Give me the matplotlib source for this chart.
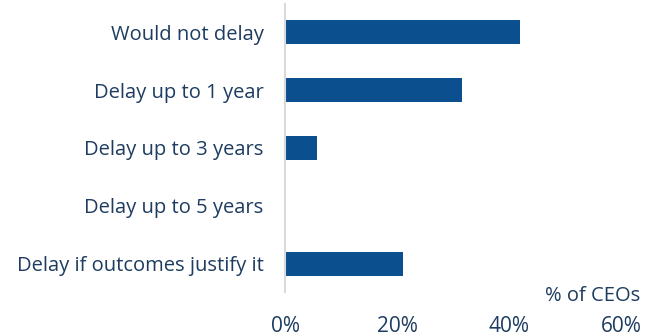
import matplotlib.pyplot as plt

plt.rcParams['font.family'] = ['Open Sans', 'DejaVu Sans']

# データ
categories = ['Would not delay', 'Delay up to 1 year', 'Delay up to 3 years',
              'Delay up to 5 years', 'Delay if outcomes justify it']
values = [42, 31.6, 5.8, 0, 21]
xticks = [0, 20, 40, 60]
xticklabels = ['0%', '20%', '40%', '60%']

text_col = '#1d3c60'
bar_col = '#0b4f8f'

fig = plt.figure(figsize=(6.6, 3.35), dpi=100)
ax = fig.add_axes([285/660, 1 - 292/335, (621 - 285)/660, 288/335])

ax.barh(range(len(categories)), values, height=0.41, color=bar_col)
ax.set_ylim(len(categories) - 0.517, -0.483)
ax.set_xlim(0, 60)

ax.set_yticks(range(len(categories)))
ax.set_yticklabels(categories, fontsize=14.5, color=text_col)
ax.set_xticks(xticks)
ax.set_xticklabels(xticklabels, fontsize=15, color=text_col)
ax.tick_params(axis='both', length=0)
ax.tick_params(axis='y', pad=15.5)
ax.tick_params(axis='x', pad=17)

for s in ['top', 'right', 'bottom']:
    ax.spines[s].set_visible(False)
ax.spines['left'].set_color('#d9d9d9')
ax.spines['left'].set_linewidth(1.5)

fig.text(640/660, 1 - 296/335, '% of CEOs', ha='right', va='center',
         fontsize=14.5, color=text_col)

plt.savefig('out.png', dpi=100)
